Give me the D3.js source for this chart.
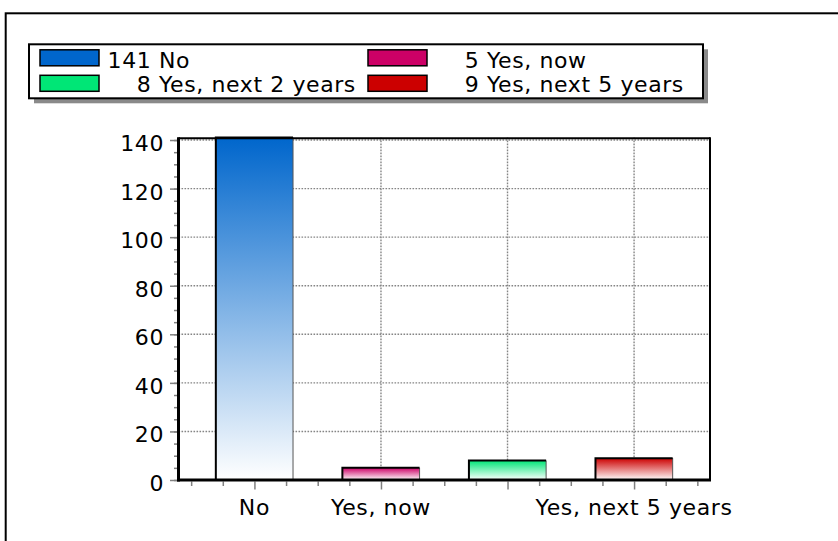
<!DOCTYPE html>
<html><head><meta charset="utf-8">
<script src="https://cdn.jsdelivr.net/npm/d3@7"></script>
<style>
html,body{margin:0;padding:0;background:#fff;}
svg{display:block;}
text{font-family:"DejaVu Sans",Verdana,sans-serif;font-size:22px;letter-spacing:0.6px;fill:#000;}
</style></head>
<body>
<svg id="c" width="838" height="541"></svg>
<script>
const categories = ["No", "Yes, now", "Yes, next 2 years", "Yes, next 5 years"];
const values = [141, 5, 8, 9];
const colors = ["#0066cc", "#cc0066", "#00e676", "#cc0000"];
const yMajorTicks = [0, 20, 40, 60, 80, 100, 120, 140];

const svg = d3.select("#c");
const plot = {left: 178.5, right: 710, top: 137.6, bottom: 480};

// outer frame
svg.append("rect").attr("x", 5.7).attr("y", 13.3).attr("width", 900).attr("height", 900)
  .attr("fill", "none").attr("stroke", "#000").attr("stroke-width", 2);

const x = d3.scaleLinear().domain([-0.6, categories.length - 0.4]).range([plot.left, plot.right]);
const y = d3.scaleLinear().domain([0, d3.max(values)]).range([plot.bottom, plot.top]);

// gradients
const defs = svg.append("defs");
colors.forEach((c, i) => {
  const g = defs.append("linearGradient").attr("id", "g" + i)
    .attr("x1", 0).attr("y1", 0).attr("x2", 0).attr("y2", 1);
  g.append("stop").attr("offset", "0%").attr("stop-color", c);
  g.append("stop").attr("offset", "100%").attr("stop-color", "#ffffff");
});

// grid
const grid = svg.append("g").attr("stroke", "#858585").attr("stroke-width", 1.4)
  .attr("stroke-dasharray", "1.6,1.4").attr("fill", "none");
yMajorTicks.filter(d => d > 0).forEach(d => {
  grid.append("line").attr("x1", plot.left).attr("x2", plot.right)
    .attr("y1", y(d)).attr("y2", y(d));
});
categories.forEach((c, i) => {
  grid.append("line").attr("x1", x(i)).attr("x2", x(i))
    .attr("y1", plot.top).attr("y2", plot.bottom);
});

// bars
const bw = 0.61;
const bars = svg.append("g");
categories.forEach((c, i) => {
  const x0 = x(i - bw / 2), x1 = x(i + bw / 2);
  const yt = y(values[i]), yb = y(0);
  bars.append("rect").attr("x", x0).attr("y", yt).attr("width", x1 - x0).attr("height", yb - yt)
    .attr("fill", "url(#g" + i + ")");
  bars.append("line").attr("x1", x1).attr("x2", x1).attr("y1", yt).attr("y2", yb)
    .attr("stroke", "#555").attr("stroke-width", 1);
  bars.append("line").attr("x1", x0 + 2).attr("x2", x0 + 2).attr("y1", yt + 1).attr("y2", yb)
    .attr("stroke", c).attr("stroke-width", 2);
  bars.append("path").attr("d", `M${x0},${yb}V${yt}H${x1}`)
    .attr("fill", "none").attr("stroke", "#000").attr("stroke-width", 2);
});

// axes ticks
const tickCol = "#808080";
const yMinor = d3.range(0, d3.max(values), 5);
const gyMin = svg.append("g").attr("transform", `translate(${plot.left - 1.5},0)`)
  .call(d3.axisLeft(y).tickValues(yMinor).tickSize(3).tickFormat(""));
const gy = svg.append("g").attr("transform", `translate(${plot.left - 1.5},0)`)
  .call(d3.axisLeft(y).tickValues(yMajorTicks).tickSize(7).tickPadding(6).tickFormat(d3.format("d")));
[gy, gyMin].forEach(g => {
  g.select(".domain").remove();
  g.selectAll(".tick line").attr("stroke", tickCol).attr("stroke-width", 1.5);
});
gy.selectAll(".tick text").attr("dy", "0.48em").attr("font-size", 22)
  .style("font-family", '"DejaVu Sans",Verdana,sans-serif');

const xMinor = d3.range(-0.5, categories.length - 0.5 + 0.01, 0.25).filter(d => Math.abs(d - Math.round(d)) > 0.01 || d < 0);
const gxMin = svg.append("g").attr("transform", `translate(0,${plot.bottom + 1.5})`)
  .call(d3.axisBottom(x).tickValues(xMinor).tickSize(4.5).tickFormat(""));
const gx = svg.append("g").attr("transform", `translate(0,${plot.bottom + 1.5})`)
  .call(d3.axisBottom(x).tickValues(d3.range(categories.length)).tickSize(8).tickFormat(""));
[gx, gxMin].forEach(g => {
  g.select(".domain").remove();
  g.selectAll(".tick line").attr("stroke", tickCol).attr("stroke-width", 1.5);
});

// x labels with overlap skipping
let lastRight = -Infinity;
categories.forEach((c, i) => {
  const t = svg.append("text").attr("x", x(i)).attr("y", 515).attr("text-anchor", "middle").text(c);
  const w = t.node().getComputedTextLength();
  const l = x(i) - w / 2, r = x(i) + w / 2;
  if (l < lastRight + 4) { t.remove(); } else { lastRight = r; }
});

// plot frame
svg.append("line").attr("x1", plot.left).attr("x2", plot.right).attr("y1", plot.top + 0.6).attr("y2", plot.top + 0.6)
  .attr("stroke", "#000").attr("stroke-width", 2);
svg.append("line").attr("x1", plot.right).attr("x2", plot.right).attr("y1", plot.top - 0.4).attr("y2", plot.bottom)
  .attr("stroke", "#000").attr("stroke-width", 2);
svg.append("line").attr("x1", plot.left).attr("x2", plot.left).attr("y1", plot.top - 0.4).attr("y2", plot.bottom + 1.5)
  .attr("stroke", "#000").attr("stroke-width", 3);
svg.append("line").attr("x1", plot.left - 1.5).attr("x2", plot.right + 1).attr("y1", plot.bottom).attr("y2", plot.bottom)
  .attr("stroke", "#000").attr("stroke-width", 3);

// legend
const lg = {x: 29, y: 44.3, w: 674, h: 54};
svg.append("rect").attr("x", lg.x + 5).attr("y", lg.y + 5).attr("width", lg.w).attr("height", lg.h)
  .attr("fill", "#8a8a8a");
svg.append("rect").attr("x", lg.x).attr("y", lg.y).attr("width", lg.w).attr("height", lg.h)
  .attr("fill", "#fff").attr("stroke", "#000").attr("stroke-width", 2);
const maxDigits = d3.max(values, v => String(v).length);
const digitW = 0.636 * 22 + 0.6;
categories.forEach((c, i) => {
  const col = i % 2, row = Math.floor(i / 2);
  const sx = 40 + col * 328, sy = 49.8 + row * 25.5;
  svg.append("rect").attr("x", sx).attr("y", sy).attr("width", 59).attr("height", 16)
    .attr("fill", colors[i]).attr("stroke", "#000").attr("stroke-width", 1.5);
  const s = String(values[i]);
  svg.append("text").attr("x", sx + 67.6 + (maxDigits - s.length) * digitW).attr("y", 68.3 + row * 23.8)
    .text(s + " " + c);
});
</script>
</body></html>
